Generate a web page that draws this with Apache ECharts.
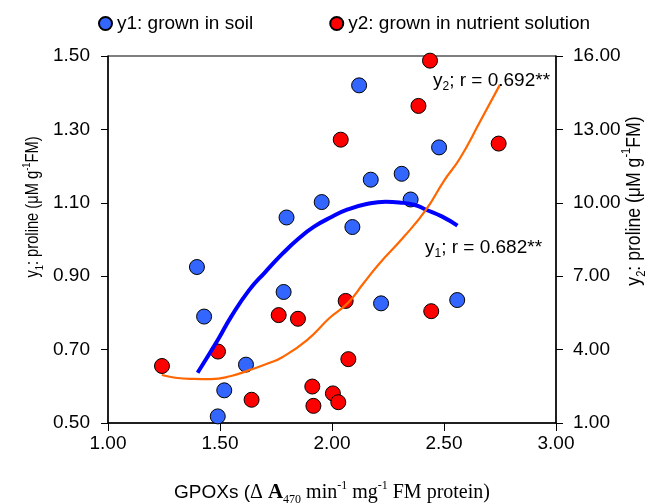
<!DOCTYPE html>
<html>
<head>
<meta charset="utf-8">
<script src="https://cdn.jsdelivr.net/npm/echarts@6/dist/echarts.min.js"></script>
<style>
html,body{margin:0;padding:0;background:#fff;}
#chart{width:648px;height:503px;}
</style>
</head>
<body>
<div id="chart"></div>
<script>
// ---- data ----
const legendNames = ['y1: grown in soil', 'y2: grown in nutrient solution'];

// y1: grown in soil (left axis)
const soilX = [1.397, 1.429, 1.490, 1.519, 1.616, 1.784, 1.797, 1.954, 2.091, 2.121, 2.173, 2.219, 2.311, 2.351, 2.478, 2.559];
const soilY = [0.925, 0.790, 0.518, 0.589, 0.659, 0.857, 1.060, 1.102, 1.034, 1.420, 1.163, 0.826, 1.179, 1.109, 1.251, 0.835];

// y2: grown in nutrient solution (right axis)
const nutrX = [1.241, 1.491, 1.641, 1.762, 1.848, 1.912, 1.917, 2.004, 2.028, 2.039, 2.061, 2.073, 2.386, 2.4375, 2.443, 2.744];
const nutrY = [3.33, 3.92, 1.95, 5.41, 5.26, 2.49, 1.70, 2.21, 1.85, 12.58, 5.99, 3.61, 13.96, 15.81, 5.57, 12.42];

// trend curves
const trend1X = [1.40, 1.49, 1.55, 1.63, 1.70, 1.78, 1.85, 1.92, 2.00, 2.07, 2.15, 2.24, 2.30, 2.37, 2.42, 2.49, 2.56];
const trend1Y = [0.637, 0.726, 0.790, 0.862, 0.910, 0.962, 1.002, 1.035, 1.062, 1.082, 1.096, 1.103, 1.101, 1.094, 1.081, 1.063, 1.038];

const trend2X = [1.24, 1.30, 1.38, 1.46, 1.55, 1.63, 1.71, 1.78, 1.89, 1.99, 2.07, 2.14, 2.21, 2.32, 2.42, 2.50, 2.57, 2.66, 2.75];
const trend2Y = [2.96, 2.85, 2.80, 2.79, 2.92, 3.16, 3.42, 3.70, 4.40, 5.30, 5.90, 6.70, 7.50, 8.60, 9.72, 10.90, 11.80, 13.30, 14.83];

const xTicks = {min: 1, max: 3, step: 0.5};
const y1Ticks = {min: 0.5, max: 1.5, step: 0.2};
const y2Ticks = {min: 1, max: 16, step: 3};

const annot1 = 'y1; r = 0.682**';
const annot2 = 'y2; r = 0.692**';
const y1Title = ['y', '1', ': proline (μM g', '-1', 'FM)'];
const y2Title = ['y', '2', ': proline (μM g', '-1', 'FM)'];

// ---- chart ----
const SANS = 'Liberation Sans, Arial, sans-serif';
const SERIF = 'Liberation Serif, Times New Roman, serif';
const zip = (a, b) => a.map((v, i) => [v, b[i]]);

const chart = echarts.init(document.getElementById('chart'), null, {renderer: 'canvas'});

function titleRich(fs) {
  const small = Math.round(fs * 0.62);
  return {
    a: {fontSize: fs, fontFamily: SANS, fill: '#000', lineHeight: Math.round(fs * 1.35)},
    s: {fontSize: small, fontFamily: SANS, fill: '#000', verticalAlign: 'bottom', lineHeight: Math.round(fs * 0.95)},
    p: {fontSize: small, fontFamily: SANS, fill: '#000', verticalAlign: 'top', lineHeight: Math.round(fs * 1.0)}
  };
}
function titleText(parts) {
  return '{a|' + parts[0] + '}{s|' + parts[1] + '}{a|' + parts[2] + '}{p|' + parts[3] + '}{a|' + parts[4] + '}';
}
function annotText(t) {
  return '{a|' + t.slice(0, 1) + '}{s|' + t.slice(1, 2) + '}{a|' + t.slice(2) + '}';
}
const annotRich = {
  a: {fontSize: 19, fontFamily: SANS, fill: '#000', lineHeight: 24},
  s: {fontSize: 12, fontFamily: SANS, fill: '#000', verticalAlign: 'bottom', lineHeight: 18}
};

const option = {
  animation: false,
  backgroundColor: '#fff',
  textStyle: {fontFamily: SANS},
  legend: {
    left: 93, top: 9,
    icon: 'circle',
    itemWidth: 13, itemHeight: 13, itemGap: 76,
    textStyle: {fontSize: 19, color: '#000', fontFamily: SANS},
    data: legendNames
  },
  grid: {left: 108, right: 92, top: 56, bottom: 80, outerBoundsMode: 'none', containLabel: false,
         show: true, borderColor: '#000', borderWidth: 1, backgroundColor: 'transparent'},
  xAxis: {
    type: 'value', min: xTicks.min, max: xTicks.max, interval: xTicks.step,
    axisLine: {show: true, lineStyle: {color: '#000', width: 1.5}},
    axisTick: {show: true, length: 8, lineStyle: {color: '#000'}},
    splitLine: {show: false},
    axisLabel: {fontSize: 19, color: '#000', fontFamily: SANS, margin: 11, formatter: v => v.toFixed(2)},
    nameLocation: 'middle', nameGap: 57,
    name: '{s|GPOXs (}{t|Δ }{b|A}{sub|470}{t| min}{sup|-1}{t| mg}{sup|-1}{t| FM protein)}',
    nameTextStyle: {
      rich: {
        s: {fontSize: 19, fontFamily: SANS, color: '#000', lineHeight: 26},
        t: {fontSize: 20, fontFamily: SERIF, color: '#000', lineHeight: 26},
        b: {fontSize: 21, fontFamily: SERIF, fontWeight: 'bold', color: '#000', lineHeight: 26},
        sub: {fontSize: 12, fontFamily: SERIF, color: '#000', verticalAlign: 'bottom', lineHeight: 17},
        sup: {fontSize: 12, fontFamily: SERIF, color: '#000', verticalAlign: 'top', lineHeight: 20}
      }
    }
  },
  yAxis: [
    {
      type: 'value', position: 'left', min: y1Ticks.min, max: y1Ticks.max, interval: y1Ticks.step,
      axisLine: {show: true, lineStyle: {color: '#000', width: 1.5}},
      axisTick: {show: true, length: 7, lineStyle: {color: '#000'}},
      splitLine: {show: false},
      axisLabel: {fontSize: 19, color: '#000', fontFamily: SANS, margin: 18, formatter: v => v.toFixed(2)}
    },
    {
      type: 'value', position: 'right', min: y2Ticks.min, max: y2Ticks.max, interval: y2Ticks.step,
      axisLine: {show: true, lineStyle: {color: '#000', width: 1.5}},
      axisTick: {show: true, length: 7, lineStyle: {color: '#000'}},
      splitLine: {show: false},
      axisLabel: {fontSize: 19, color: '#000', fontFamily: SANS, margin: 17, formatter: v => v.toFixed(2)}
    }
  ],
  series: [
    {
      name: legendNames[0], type: 'scatter', yAxisIndex: 0, z: 3,
      symbol: 'circle', symbolSize: 15,
      itemStyle: {color: '#3366FF', borderColor: '#000', borderWidth: 1, opacity: 1},
      data: zip(soilX, soilY)
    },
    {
      name: legendNames[1], type: 'scatter', yAxisIndex: 1, z: 3,
      symbol: 'circle', symbolSize: 15,
      itemStyle: {color: '#FF0000', borderColor: '#000', borderWidth: 1, opacity: 1},
      data: zip(nutrX, nutrY)
    },
    {
      name: 'trend y1', type: 'line', yAxisIndex: 0, z: 4, smooth: true,
      showSymbol: false, symbol: 'none',
      lineStyle: {color: '#0000FF', width: 4},
      data: zip(trend1X, trend1Y)
    },
    {
      name: 'trend y2', type: 'line', yAxisIndex: 1, z: 4, smooth: true,
      showSymbol: false, symbol: 'none',
      lineStyle: {color: '#FF6600', width: 2.2},
      data: zip(trend2X, trend2Y)
    }
  ],
  graphic: [
    {
      type: 'text', x: 433, y: 69, z: 10,
      style: {text: annotText(annot2), align: 'left', verticalAlign: 'top', rich: annotRich}
    },
    {
      type: 'text', x: 425, y: 236, z: 10,
      style: {text: annotText(annot1), align: 'left', verticalAlign: 'top', rich: annotRich}
    },
    {
      type: 'text', x: 33, y: 207, rotation: Math.PI / 2, scaleX: 0.84, scaleY: 1, z: 10,
      style: {text: titleText(y1Title), align: 'center', verticalAlign: 'middle', rich: titleRich(17.5)}
    },
    {
      type: 'text', x: 634, y: 201, rotation: Math.PI / 2, scaleX: 0.86, scaleY: 1, z: 10,
      style: {text: titleText(y2Title), align: 'center', verticalAlign: 'middle', rich: titleRich(20.5)}
    }
  ]
};
chart.setOption(option);
</script>
</body>
</html>
